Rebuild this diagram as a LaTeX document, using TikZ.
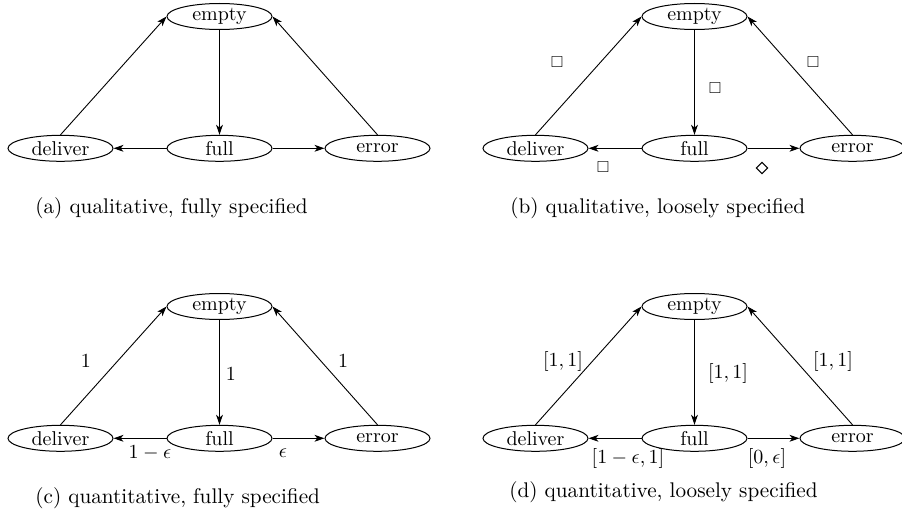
\documentclass[tikz,border=0pt]{standalone}
\usepackage{amssymb}
\usetikzlibrary{arrows.meta,shapes.geometric}
\tikzset{
  state/.style={draw, ellipse, line width=0.5pt, minimum width=52.5pt, minimum height=13pt, inner sep=0pt, font=\fontsize{10}{12}\selectfont},
  trans/.style={-{Stealth[length=5pt,width=3.4pt,inset=1.4pt]}, line width=0.45pt},
  lbl/.style={inner sep=0pt, font=\fontsize{10}{12}\selectfont},
  sym/.style={inner sep=0pt, font=\fontsize{8}{9}\selectfont},
  dia/.style={draw, diamond, aspect=1, minimum width=5.8pt, minimum height=5.8pt, inner sep=0pt, line width=0.5pt},
  captxt/.style={inner sep=0pt, anchor=west, font=\fontsize{10.6}{12}\selectfont}
}
\newcommand{\mygraph}{%
  \node[state] (e) at (219.5,16.5) {empty};
  \node[state] (d) at (60.5,148.3) {deliver};
  \node[state] (f) at (219.5,148.3) {full};
  \node[state] (r) at (377.5,148.3) {error};
  \draw[trans] (d.north) -- (e.west);
  \draw[trans] (r.north) -- (e.east);
  \draw[trans] (e) -- (f);
  \draw[trans] (f) -- (d);
  \draw[trans] (f) -- (r);
}
\begin{document}
\begin{tikzpicture}[x=0.5pt, y=-0.5pt]
\useasboundingbox (0,0) rectangle (902,514);
% (a)
\begin{scope}[name prefix=a-]
  \mygraph
  \node[captxt] (cap) at (35,208) {(a) qualitative, fully specified};
\end{scope}
% (b)
\begin{scope}[shift={(475,0)}, name prefix=b-]
  \mygraph
  \node[sym] (l1) at (82,62) {$\square$};
  \node[sym] (l2) at (240,88) {$\square$};
  \node[sym] (l3) at (338,62) {$\square$};
  \node[sym] (l4) at (128,167) {$\square$};
  \node[dia] (l5) at (287,168) {};
  \node[captxt] (cap) at (35,208) {(b) qualitative, loosely specified};
\end{scope}
% (c)
\begin{scope}[shift={(0,290)}, name prefix=c-]
  \mygraph
  \node[lbl] (l1) at (86,71) {$1$};
  \node[lbl] (l2) at (231,84) {$1$};
  \node[lbl] (l3) at (343,71) {$1$};
  \node[lbl] (l4) at (150,163) {$1-\epsilon$};
  \node[lbl] (l5) at (283,163) {$\epsilon$};
  \node[captxt] (cap) at (35,208) {(c) quantitative, fully specified};
\end{scope}
% (d)
\begin{scope}[shift={(475,290)}, name prefix=d-]
  \mygraph
  \node[lbl] (l1) at (88,71) {$[1,1]$};
  \node[lbl] (l2) at (253,84) {$[1,1]$};
  \node[lbl] (l3) at (358,71) {$[1,1]$};
  \node[lbl] (l4) at (153,168) {$[1-\epsilon,1]$};
  \node[lbl] (l5) at (292,168) {$[0,\epsilon]$};
  \node[captxt] (cap) at (34,202) {(d) quantitative, loosely specified};
\end{scope}
\end{tikzpicture}
\end{document}
